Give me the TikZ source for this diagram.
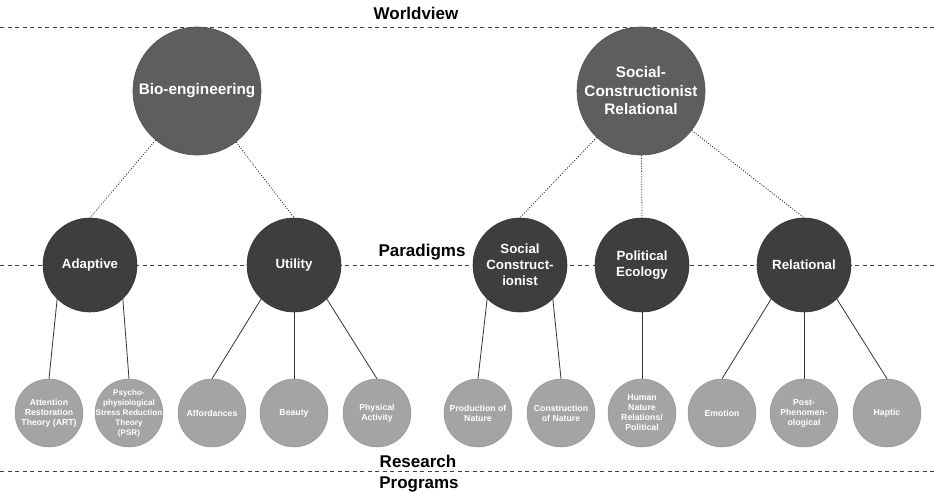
\documentclass[tikz,border=0pt]{standalone}
\usepackage{fontspec}
\setmainfont{Liberation Sans}
\usetikzlibrary{positioning}

\definecolor{worldfill}{HTML}{5E5E5E}
\definecolor{paradigmfill}{HTML}{3E3E3E}
\definecolor{programfill}{HTML}{A4A4A4}

\begin{document}
\begin{tikzpicture}[
    x=1pt, y=-1pt,
    % Level Label Style
    levellabel/.style={
        anchor=base, font=\fontsize{17}{20}\selectfont\bfseries, text=black
    },
    % Dashed Level Divider
    divider/.style={
        draw=black!75, line width=0.9pt, dash pattern=on 4pt off 3.5pt
    },
    % Worldview Circle Style
    worldview/.style={
        circle, fill=worldfill, draw=worldfill!85!black, line width=0.6pt,
        text=white, minimum size=128pt, inner sep=0pt, align=center,
        font=\fontsize{15.3}{18.5}\selectfont\bfseries
    },
    % Paradigm Circle Style
    paradigm/.style={
        circle, fill=paradigmfill, draw=paradigmfill!85!black, line width=0.6pt,
        text=white, minimum size=94pt, inner sep=0pt, align=center,
        font=\fontsize{13.3}{16}\selectfont\bfseries
    },
    % Research Program Circle Style
    program/.style={
        circle, fill=programfill, draw=programfill!90!black, line width=0.5pt,
        text=white, minimum size=68pt, inner sep=-4pt, align=center,
        font=\fontsize{8.7}{10}\selectfont\bfseries
    },
    % Connector Styles
    link/.style={draw=black!85, line width=0.8pt, dash pattern=on 1pt off 1.6pt},
    branch/.style={draw=black!80, line width=0.8pt}
]
    \useasboundingbox (0,0) rectangle (934,491);

    % =========================================================================
    % Level Dividers and Labels
    % =========================================================================
    \draw[divider] (0,27) -- (934,27);
    \draw[divider] (0,265) -- (934,265);
    \draw[divider] (0,471) -- (934,471);

    \node[levellabel] (lworld) at (416,19) {Worldview};
    \node[levellabel] (lparadigm) at (422,256) {Paradigms};
    \node[levellabel] (lresearch) at (418,467) {Research};
    \node[levellabel] (lprograms) at (419,488) {Programs};

    % =========================================================================
    % Worldviews
    % =========================================================================
    \node[worldview] (bio) at (197,91) {Bio-engineering};
    \node[worldview] (scr) at (641,91) {Social-\\Constructionist\\Relational};

    % =========================================================================
    % Paradigms
    % =========================================================================
    \node[paradigm] (adaptive) at (90,265) {Adaptive};
    \node[paradigm] (utility) at (294,265) {Utility};
    \node[paradigm] (socon) at (520,265) {Social\\Construct-\\ionist};
    \node[paradigm] (polecol) at (642,265) {Political\\Ecology};
    \node[paradigm] (relational) at (804,265) {Relational};

    % =========================================================================
    % Research Programs
    % =========================================================================
    \node[program] (art) at (49,413) {Attention\\Restoration\\Theory (ART)};
    \node[program, inner sep=-9pt, font=\fontsize{8.1}{10}\selectfont\bfseries] (psr) at (129,413)
        {Psycho-\\physiological\\Stress Reduction\\Theory\\(PSR)};
    \node[program] (afford) at (212,413) {Affordances};
    \node[program] (beauty) at (294,413) {Beauty};
    \node[program] (physact) at (377,413) {Physical\\Activity};
    \node[program] (prodnat) at (478,413) {Production of\\Nature};
    \node[program] (consnat) at (561,413) {Construction\\of Nature};
    \node[program] (humnat) at (642,413) {Human\\Nature\\Relations/\\Political};
    \node[program] (emotion) at (722,413) {Emotion};
    \node[program] (postphen) at (804,413) {Post-\\Phenomen-\\ological};
    \node[program] (haptic) at (887,413) {Haptic};

    % =========================================================================
    % Worldview -> Paradigm (dotted)
    % =========================================================================
    \draw[link] (bio) -- (adaptive.north);
    \draw[link] (bio) -- (utility.north);
    \draw[link] (scr) -- (socon.north);
    \draw[link] (scr) -- (polecol.north);
    \draw[link] (scr) -- (relational.north);

    % =========================================================================
    % Paradigm -> Research Program (solid)
    % =========================================================================
    \draw[branch] (adaptive.-134) -- (art.north);
    \draw[branch] (adaptive.-46) -- (psr.north);
    \draw[branch] (utility.-134) -- (afford.north);
    \draw[branch] (utility.south) -- (beauty.north);
    \draw[branch] (utility.-46) -- (physact.north);
    \draw[branch] (socon.-134) -- (prodnat.north);
    \draw[branch] (socon.-46) -- (consnat.north);
    \draw[branch] (polecol.south) -- (humnat.north);
    \draw[branch] (relational.-134) -- (emotion.north);
    \draw[branch] (relational.south) -- (postphen.north);
    \draw[branch] (relational.-46) -- (haptic.north);

\end{tikzpicture}
\end{document}
